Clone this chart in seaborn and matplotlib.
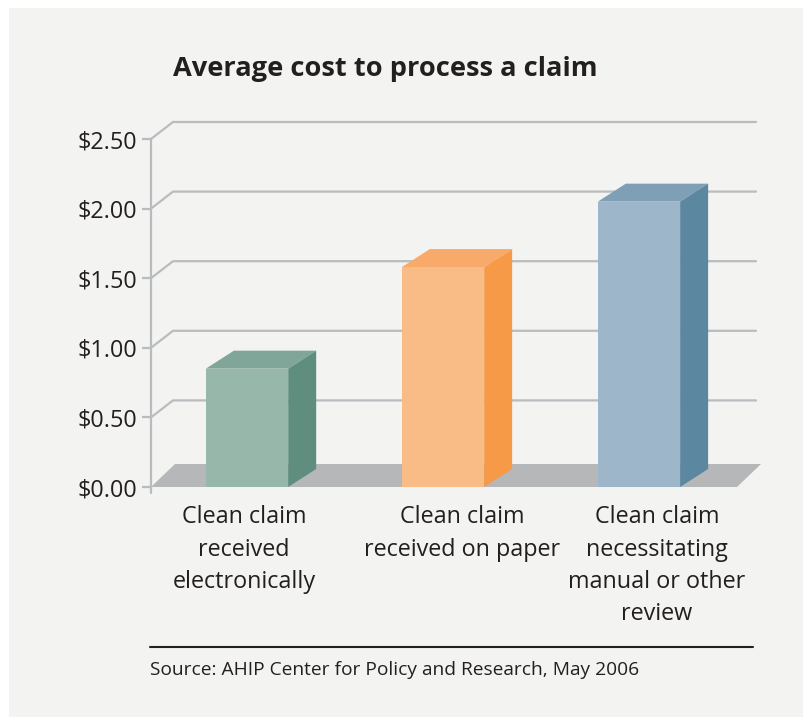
import matplotlib
matplotlib.use("Agg")
import matplotlib.pyplot as plt
import seaborn as sns
import pandas as pd
from matplotlib.patches import Polygon, Rectangle
from matplotlib.lines import Line2D
from matplotlib.transforms import ScaledTranslation

categories = ["Clean claim\nreceived\nelectronically",
              "Clean claim\nreceived on paper",
              "Clean claim\nnecessitating\nmanual or other\nreview"]
costs = [0.85, 1.58, 2.05]
tick_values = [0.0, 0.5, 1.0, 1.5, 2.0, 2.5]
tick_labels = ["$0.00", "$0.50", "$1.00", "$1.50", "$2.00", "$2.50"]
title = "Average cost to process a claim"
source = "Source: AHIP Center for Policy and Research, May 2006"

front_colors = ["#97b7ab", "#f9bc87", "#9db6c9"]
top_colors = ["#80a699", "#f8aa6b", "#7f9fb6"]
side_colors = ["#5f8e7e", "#f79a47", "#5b87a0"]

sns.set_theme(style="white")
plt.rcParams['font.family'] = ['Open Sans', 'DejaVu Sans']

FW, FH = 804, 717
fig = plt.figure(figsize=(FW / 100, FH / 100), dpi=100, facecolor="white")
fig.patches.append(Rectangle((9 / FW, 0), 1, 1 - 8 / FH, transform=fig.transFigure,
                             facecolor="#f3f3f2", edgecolor="none", zorder=-10))

ax_l, ax_r, ax_t, ax_b = 151, 735, 139, 487
ax = fig.add_axes([ax_l / FW, 1 - ax_b / FH, (ax_r - ax_l) / FW, (ax_b - ax_t) / FH])
ax.set_facecolor("none")

df = pd.DataFrame({"category": categories, "cost": costs})
sns.barplot(data=df, x="category", y="cost", hue="category", palette=front_colors,
            width=0.42, legend=False, ax=ax, saturation=1, zorder=5)

xmin, xmax = -0.49, 2.49
ax.set_xlim(xmin, xmax)
ax.set_ylim(0, 2.5)
W_px, H_px = ax_r - ax_l, ax_b - ax_t
def px2dx(p):
    return p * (xmax - xmin) / W_px
def px2dy(p):
    return p * 2.5 / H_px

grid_c = "#b9bcbe"
# back wall gridlines
gdx, gdy = px2dx(22), px2dy(17)
x_back_end = xmin + px2dx(756 - ax_l)
for v in tick_values[1:]:
    ax.add_line(Line2D([xmin, xmin + gdx, x_back_end], [v, v + gdy, v + gdy],
                       color=grid_c, lw=1.6, clip_on=False, zorder=1))

# floor
fdx, fdy = px2dx(24), px2dy(23)
x_floor_r = xmin + px2dx(737 - ax_l)
ax.add_patch(Polygon([[xmin, 0], [x_floor_r, 0], [x_floor_r + fdx, fdy], [xmin + fdx, fdy]],
                     closed=True, facecolor="#b5b7b9", edgecolor="none", clip_on=False, zorder=2))

# 3D faces of bars
bdx, bdy = px2dx(28), px2dy(18)
for patch, tc, sc in zip(ax.patches, top_colors, side_colors):
    if not isinstance(patch, Rectangle):
        continue
    x0, w, h = patch.get_x(), patch.get_width(), patch.get_height()
    patch.set_edgecolor("none")
    ax.add_patch(Polygon([[x0, h], [x0 + w, h], [x0 + w + bdx, h + bdy], [x0 + bdx, h + bdy]],
                         closed=True, facecolor=tc, edgecolor="none", clip_on=False, zorder=6))
    ax.add_patch(Polygon([[x0 + w, 0], [x0 + w + bdx, bdy], [x0 + w + bdx, h + bdy], [x0 + w, h]],
                         closed=True, facecolor=sc, edgecolor="none", clip_on=False, zorder=6))

# axes styling
for s in ["top", "right", "bottom"]:
    ax.spines[s].set_visible(False)
ax.spines["left"].set_color(grid_c)
ax.spines["left"].set_linewidth(1.6)
ax.add_line(Line2D([xmin, xmin], [0, -px2dy(6)], color=grid_c, lw=1.6, clip_on=False))
ax.set_yticks(tick_values)
ax.set_yticklabels(tick_labels)
ax.tick_params(axis="y", left=True, length=6.5, width=1.6, color=grid_c, pad=3.5,
               labelsize=16.8, labelcolor="#231f20")
ax.tick_params(axis="x", bottom=False, length=0, pad=13, labelsize=16.8, labelcolor="#231f20")
ax.set_xlabel("")
ax.set_ylabel("")
for lab, dx in zip(ax.get_xticklabels(), [-3, 19, 18]):
    lab.set_linespacing(1.47)
    lab.set_transform(lab.get_transform() + ScaledTranslation(dx / 100, 0, fig.dpi_scale_trans))

fig.text(173 / FW, 1 - 69 / FH, title, fontsize=19.6, fontweight="bold", color="#231f20",
         ha="left", va="center")
fig.add_artist(Line2D([150 / FW, 753 / FW], [1 - 647 / FH, 1 - 647 / FH],
                      transform=fig.transFigure, color="#231f20", lw=1.5))
fig.text(150 / FW, 1 - 670 / FH, source, fontsize=13.8, color="#231f20", ha="left", va="center")

fig.savefig("out.png", dpi=100, facecolor=fig.get_facecolor())
